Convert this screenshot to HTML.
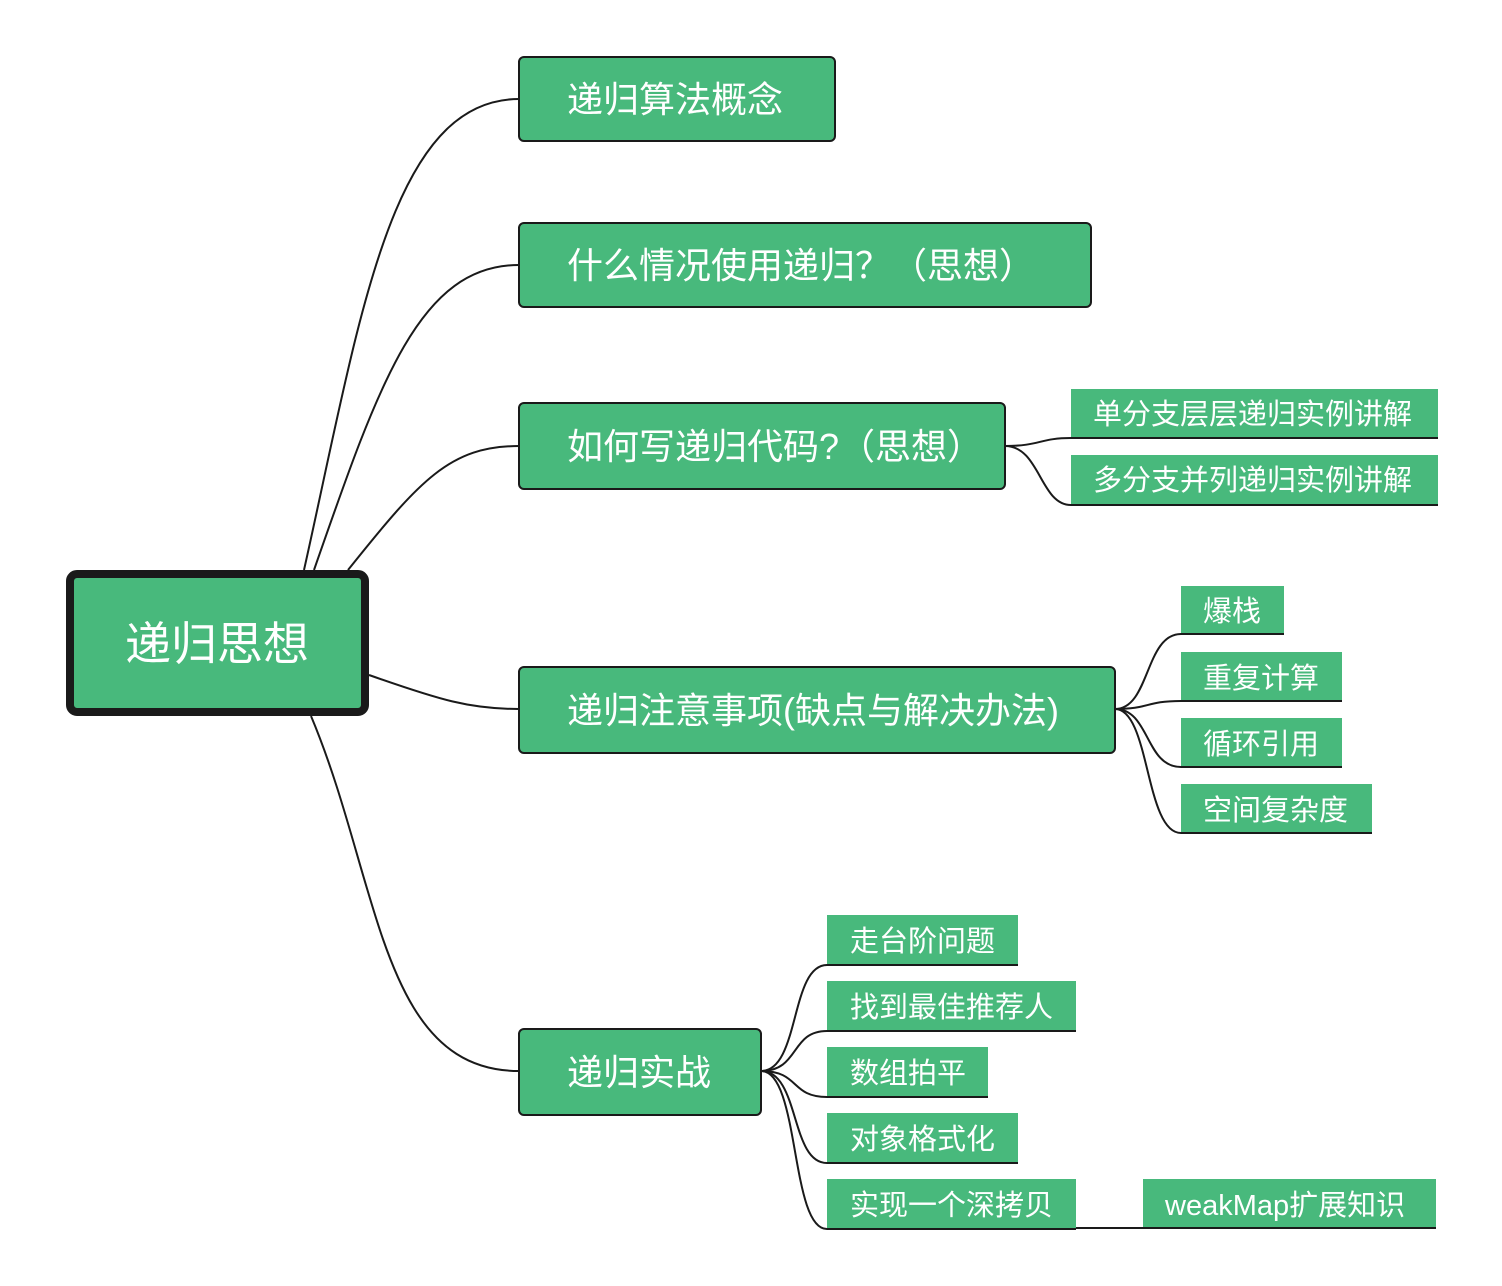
<!DOCTYPE html>
<html><head><meta charset="utf-8"><style>
html,body{margin:0;padding:0;background:#fff;}
svg{display:block;}
text{font-family:"Liberation Sans","Noto Sans CJK SC",sans-serif;fill:#fff;}
</style></head><body>
<svg width="1502" height="1286" viewBox="0 0 1502 1286" xmlns="http://www.w3.org/2000/svg">
<g fill="none" stroke="#1a1a1a" stroke-width="2">
<path d="M304,570 C360,320 390,99 519,99"/>
<path d="M314,570 C380,380 420,265 519,265"/>
<path d="M348,570 C420,480 450,446 519,446"/>
<path d="M369,675 C440,700 470,709 519,709"/>
<path d="M311,716 C380,880 380,1071 519,1071"/>
<path d="M1005,446 C1040,446 1040,438 1071,438"/>
<path d="M1005,446 C1040,446 1040,505 1071,505"/>
<path d="M1115,709 C1150,709 1145,634 1181,634"/>
<path d="M1115,709 C1150,709 1145,701 1181,701"/>
<path d="M1115,709 C1150,709 1145,767 1181,767"/>
<path d="M1115,709 C1150,709 1145,833 1181,833"/>
<path d="M761,1071 C800,1071 790,965 827,965"/>
<path d="M761,1071 C800,1071 790,1031 827,1031"/>
<path d="M761,1071 C800,1071 790,1097 827,1097"/>
<path d="M761,1071 C800,1071 790,1163 827,1163"/>
<path d="M761,1071 C800,1071 790,1229 827,1229"/>
<path d="M1076,1228 L1143,1228"/>
</g>
<rect x="70" y="574" width="295" height="138" rx="7" fill="#48B97C" stroke="#1a1a1a" stroke-width="8"/>
<text x="217" y="660" font-size="46" text-anchor="middle">递归思想</text>
<g fill="#48B97C" stroke="#1a1a1a" stroke-width="2">
<rect x="519" y="57" width="316" height="84" rx="5"/>
<rect x="519" y="223" width="572" height="84" rx="5"/>
<rect x="519" y="403" width="486" height="86" rx="5"/>
<rect x="519" y="667" width="596" height="86" rx="5"/>
<rect x="519" y="1029" width="242" height="86" rx="5"/>
</g>
<g font-size="36">
<text x="567" y="112">递归算法概念</text>
<text x="567" y="278">什么情况使用递归？（思想）</text>
<text x="567" y="459">如何写递归代码?（思想）</text>
<text x="567" y="723">递归注意事项(缺点与解决办法)</text>
<text x="567" y="1085">递归实战</text>
</g>
<g fill="#48B97C">
<rect x="1071" y="389" width="367" height="49"/>
<rect x="1071" y="455" width="367" height="50"/>
<rect x="1181" y="586" width="103" height="48"/>
<rect x="1181" y="652" width="161" height="49"/>
<rect x="1181" y="718" width="161" height="49"/>
<rect x="1181" y="784" width="191" height="49"/>
<rect x="827" y="915" width="191" height="50"/>
<rect x="827" y="981" width="249" height="50"/>
<rect x="827" y="1047" width="161" height="50"/>
<rect x="827" y="1113" width="191" height="50"/>
<rect x="827" y="1179" width="249" height="50"/>
<rect x="1143" y="1179" width="293" height="49"/>
</g>
<g stroke="#1a1a1a" stroke-width="2">
<line x1="1071" y1="438" x2="1438" y2="438"/>
<line x1="1071" y1="505" x2="1438" y2="505"/>
<line x1="1181" y1="634" x2="1284" y2="634"/>
<line x1="1181" y1="701" x2="1342" y2="701"/>
<line x1="1181" y1="767" x2="1342" y2="767"/>
<line x1="1181" y1="833" x2="1372" y2="833"/>
<line x1="827" y1="965" x2="1018" y2="965"/>
<line x1="827" y1="1031" x2="1076" y2="1031"/>
<line x1="827" y1="1097" x2="988" y2="1097"/>
<line x1="827" y1="1163" x2="1018" y2="1163"/>
<line x1="827" y1="1229" x2="1076" y2="1229"/>
<line x1="1143" y1="1228" x2="1436" y2="1228"/>
</g>
<g font-size="29">
<text x="1093" y="424">单分支层层递归实例讲解</text>
<text x="1093" y="490">多分支并列递归实例讲解</text>
<text x="1203" y="621">爆栈</text>
<text x="1203" y="688">重复计算</text>
<text x="1203" y="754">循环引用</text>
<text x="1203" y="820">空间复杂度</text>
<text x="850" y="951">走台阶问题</text>
<text x="850" y="1017">找到最佳推荐人</text>
<text x="850" y="1083">数组拍平</text>
<text x="850" y="1149">对象格式化</text>
<text x="850" y="1215">实现一个深拷贝</text>
<text x="1165" y="1215">weakMap扩展知识</text>
</g>
</svg>
</body></html>
